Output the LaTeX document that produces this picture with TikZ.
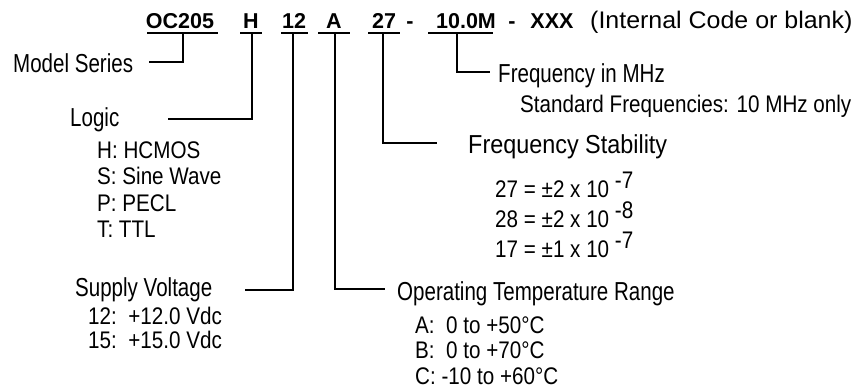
\documentclass[tikz,border=0pt]{standalone}
\usepackage{fontspec}
\setmainfont{Liberation Sans}
\newfontfamily\lblf[FakeStretch=0.79]{Liberation Sans}
\newfontfamily\lblwf[FakeStretch=0.90]{Liberation Sans}
\newfontfamily\subf[FakeStretch=0.86]{Liberation Sans}
\newfontfamily\widef[FakeStretch=1.04]{Liberation Sans}
\begin{document}
\begin{tikzpicture}[x=1pt,y=-1pt,
  code/.style={anchor=base,inner sep=0pt,font=\fontsize{21.5}{24}\selectfont\bfseries},
  note/.style={anchor=base west,inner sep=0pt,font=\widef\fontsize{24}{26}\selectfont},
  lbl/.style={anchor=base west,inner sep=0pt,font=\lblf\fontsize{26}{30}\selectfont},
  lblw/.style={anchor=base west,inner sep=0pt,font=\lblwf\fontsize{26}{30}\selectfont},
  subl/.style={anchor=base west,inner sep=0pt,font=\subf\fontsize{24}{28}\selectfont},
  ln/.style={line width=1.5pt,line cap=butt}]
\useasboundingbox (0,0) rectangle (858,389);
% code line
\node[code] (oc) at (180,28) {OC205};
\node[code] (h) at (251,28) {H};
\node[code] (v) at (294,28) {12};
\node[code] (a) at (334,28) {A};
\node[code] (st) at (384,28) {27};
\node[code] (d1) at (410,28) {-};
\node[code] (f) at (466,28) {10.0M};
\node[code] (d2) at (512,28) {-};
\node[code] (x) at (552,28) {XXX};
\node[note] (ic) at (590,28) {(Internal Code or blank)};
% underlines
\coordinate (ocL) at (147,33); \coordinate (ocR) at (218,33);
\coordinate (hL) at (240,33);  \coordinate (hR) at (262,33);
\coordinate (vL) at (281,33);  \coordinate (vR) at (308,33);
\coordinate (aL) at (318,33);  \coordinate (aR) at (350,33);
\coordinate (sL) at (368,33);  \coordinate (sR) at (400,33);
\coordinate (fL) at (428,33);  \coordinate (fR) at (493,33);
\foreach \p in {oc,h,v,a,s,f} \draw[ln] (\p L) -- (\p R);
% labels
\node[lbl] (ms) at (13,72) {Model Series};
\node[lbl] (lg) at (70,126) {Logic};
\node[subl] (l1) at (97,158) {H: HCMOS};
\node[subl] (l2) at (97,184.5) {S: Sine Wave};
\node[subl] (l3) at (97,211) {P: PECL};
\node[subl] (l4) at (97,237.5) {T: TTL};
\node[lbl] (sv) at (75,296) {Supply Voltage};
\node[subl] (s1) at (88,324) {12:\ \ +12.0 Vdc};
\node[subl] (s2) at (88,348) {15:\ \ +15.0 Vdc};
\node[lbl] (ot) at (397,300) {Operating Temperature Range};
\node[subl] (t1) at (415,333) {A:\ \ 0 to +50°C};
\node[subl] (t2) at (415,358.5) {B:\ \ 0 to +70°C};
\node[subl] (t3) at (415,384) {C: -10 to +60°C};
\node[lblw] (fs) at (468,153) {Frequency Stability};
\node[subl] (q1) at (495,197) {27 = ±2 x 10 \raisebox{9pt}{-7}};
\node[subl] (q2) at (495,227) {28 = ±2 x 10 \raisebox{9pt}{-8}};
\node[subl] (q3) at (495,257) {17 = ±1 x 10 \raisebox{9pt}{-7}};
\node[lbl] (fm) at (498,82) {Frequency in MHz};
\node[subl] (fm1) at (520,112) {Standard Frequencies: 10 MHz only};
% connectors
\coordinate (ocT) at (183,33); \coordinate (msE) at (149,62);
\coordinate (hT) at (252,33);  \coordinate (lgE) at (168,119);
\coordinate (vT) at (293,33);  \coordinate (svE) at (245,290);
\coordinate (aT) at (335,33);  \coordinate (otW) at (385,289);
\coordinate (sT) at (383,33);  \coordinate (fsW) at (437,143);
\coordinate (fT) at (457,33);  \coordinate (fmW) at (490,72);
\draw[ln] (ocT) |- (msE);
\draw[ln] (hT) |- (lgE);
\draw[ln] (vT) |- (svE);
\draw[ln] (aT) |- (otW);
\draw[ln] (sT) |- (fsW);
\draw[ln] (fT) |- (fmW);
\end{tikzpicture}
\end{document}
